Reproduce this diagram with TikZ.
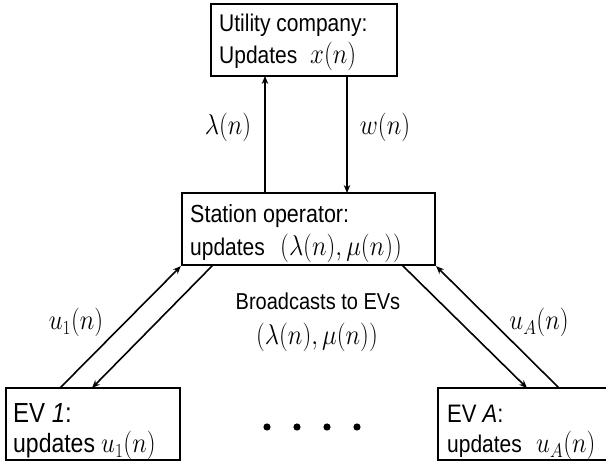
\documentclass[tikz,border=0pt]{standalone}
\usepackage{graphicx}
\usepackage{fontspec}
\setmainfont{Liberation Sans}
\usetikzlibrary{arrows.meta}

% text slightly taller than wide
\newcommand{\tall}[1]{\scalebox{1}[1.15]{#1}}
\newcommand{\mth}[2][27]{\tall{\fontsize{#1}{#1}\selectfont$#2$}}
\newcommand{\sft}[2][21]{\tall{\fontsize{#1}{#1}\selectfont #2}}

\tikzset{
  box/.style={draw, line width=2.2pt, rectangle, inner sep=0pt},
  txt/.style={anchor=base west, inner sep=0pt},
  lbl/.style={anchor=base, inner sep=0pt},
  link/.style={line width=1.6pt, -{Stealth[length=8pt,width=6.5pt]}}
}

\begin{document}
\begin{tikzpicture}[x=1pt,y=-1pt]
  \useasboundingbox (0,0) rectangle (606,465);
  \clip (0,0) rectangle (606,465);

  % boxes
  \node[box, minimum width=186pt, minimum height=72pt] (util) at (304,40) {};
  \node[box, minimum width=253pt, minimum height=72pt] (stat) at (308.5,229) {};
  \node[box, minimum width=174pt, minimum height=72pt] (ev1) at (93,424) {};
  \node[box, minimum width=174pt, minimum height=72pt] (evA) at (525,424) {};

  % box texts
  \node[txt] (ut1) at (219,32) {\sft{Utility company:}};
  \node[txt] (ut2) at (219,64) {\sft{Updates}};
  \node[txt] (ut3) at (310,64) {\mth{x(n)}};

  \node[txt] (st1) at (190,223) {\sft[21.5]{Station operator:}};
  \node[txt] (st2) at (190,256) {\sft{updates}};
  \node[txt] (st3) at (280,256) {\mth{(\lambda(n),\mu(n))}};

  \node[txt] (e11) at (13,423) {\sft[24]{EV \textit{1}:}};
  \node[txt] (e12) at (13,453) {\sft[23]{updates}};
  \node[txt] (e13) at (101,453) {\mth{u_1(n)}};

  \node[txt] (eA1) at (447,423) {\sft[22]{EV \textit{A}:}};
  \node[txt] (eA2) at (447,453) {\sft{updates}};
  \node[txt] (eA3) at (536,453) {\mth{u_A(n)}};

  % connection points on the box edges
  \coordinate (sTopL) at (265,193);
  \coordinate (uBotL) at (265,76);
  \coordinate (uBotR) at (347,76);
  \coordinate (sTopR) at (347,193);
  \coordinate (e1TopL) at (60,388);
  \coordinate (e1TopR) at (92,388);
  \coordinate (sBotA) at (213,265);
  \coordinate (sBotB) at (402,265);
  \coordinate (eATopL) at (527,388);
  \coordinate (eATopR) at (559,388);

  % connectors
  \draw[link] (sTopL) -- (uBotL);
  \draw[link] (uBotR) -- (sTopR);
  \draw[link] (e1TopL) -- (stat.south west);
  \draw[link] (sBotA) -- (e1TopR);
  \draw[link] (sBotB) -- (eATopL);
  \draw[link] (eATopR) -- (stat.south east);

  % connector labels
  \node[lbl] (lam) at (228,135) {\mth{\lambda(n)}};
  \node[lbl] (w) at (385,135) {\mth{w(n)}};
  \node[lbl] (u1) at (76,330) {\mth{u_1(n)}};
  \node[lbl] (uA) at (539,330) {\mth{u_A(n)}};
  \node[lbl] (bc) at (318,310) {\sft[20]{Broadcasts to EVs}};
  \node[lbl] (bct) at (317,345) {\mth[30]{(\lambda(n),\mu(n))}};

  % ellipsis between the EVs
  \foreach \x in {267,297,327,357}
    \fill (\x,427) circle (3.6pt);
\end{tikzpicture}
\end{document}
